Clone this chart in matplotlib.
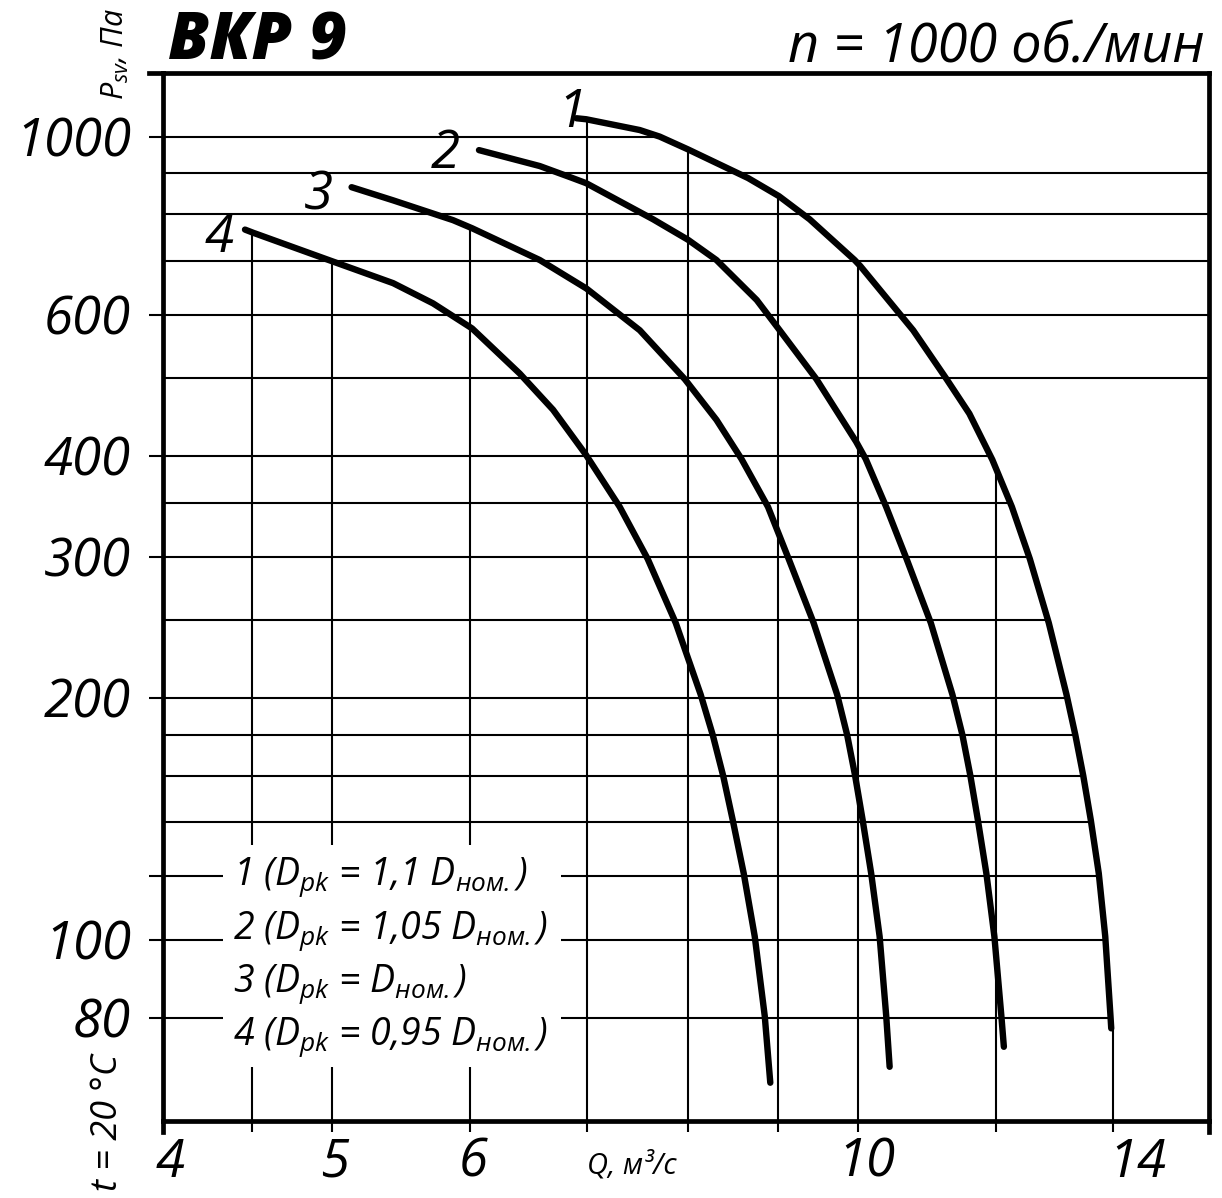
import numpy as np
import matplotlib
matplotlib.use('Agg')
from matplotlib import pyplot as plt
from matplotlib.patches import Rectangle
from matplotlib.ticker import NullLocator, NullFormatter
from matplotlib.transforms import blended_transform_factory, offset_copy

# fan curves: Q in m3/s, P_sv in Pa
q1 = [6.902, 6.991, 7.503, 7.703, 7.996, 8.655, 9.016, 9.388, 9.962, 10.037, 10.762, 11.247,
      11.590, 11.947, 12.259, 12.553, 12.871, 13.175, 13.329, 13.470, 13.604, 13.748,
      13.866, 13.962, 13.976]
p1 = [1054, 1051, 1019, 1000, 964, 888, 843, 789, 702, 690, 574, 499,
      452, 396, 346, 298, 248, 202, 180, 160, 141, 121,
      101, 80.4, 77.6]

q2 = [6.069, 6.576, 6.856, 6.991, 7.636, 7.996, 8.302, 8.755, 9.024, 9.472, 9.982, 10.108,
      10.385, 10.669, 11.016, 11.334, 11.484, 11.606, 11.721, 11.853, 11.979, 12.090, 12.130]
p2 = [962, 919, 889, 875, 789, 744, 702, 626, 574, 499, 417, 397,
      346, 298, 248, 202, 180, 160, 141, 121, 101, 80.4, 73.6]

q3 = [5.130, 5.419, 5.865, 6.014, 6.576, 6.993, 7.503, 7.962, 8.302, 8.580, 8.886, 9.132,
      9.438, 9.735, 9.864, 9.969, 10.068, 10.182, 10.296, 10.386, 10.433]
p3 = [865, 833, 787, 769, 702, 647, 574, 499, 444, 397, 346, 298,
      248, 202, 180, 160, 141, 121, 101, 80.4, 69.5]

q4 = [4.457, 4.506, 4.996, 5.419, 5.712, 6.014, 6.404, 6.692, 6.987, 7.307, 7.582, 7.868,
      8.131, 8.261, 8.376, 8.482, 8.606, 8.732, 8.848, 8.913]
p4 = [766, 759, 700, 657, 620, 577, 507, 457, 402, 346, 298, 248,
      202, 180, 160, 141, 121, 101, 80.4, 66.4]

curve_names = ['1', '2', '3', '4']
legend_lines = ['1 (D$_{pk}$ = 1,1 D$_{ном.}$)',
                '2 (D$_{pk}$ = 1,05 D$_{ном.}$)',
                '3 (D$_{pk}$ = D$_{ном.}$)',
                '4 (D$_{pk}$ = 0,95 D$_{ном.}$)']

x_ticks = [4.5, 5, 6, 7, 8, 9, 10, 12, 14]
x_labels = ['4', '5', '6', '10', '14']
x_label_vals = [4, 5, 6, 10, 14]
y_ticks = [80, 100, 120, 200, 300, 400, 600, 1000]
y_label_vals = [80, 100, 200, 300, 400, 600, 1000]
y_labels = ['80', '100', '200', '300', '400', '600', '1000']

h_grid = [80, 100, 120, 140, 160, 180, 200, 250, 300, 350, 400, 500, 600, 700, 800, 900, 1000]
h_grid_full = [500, 600, 700, 800, 900]
v_grid = [4.5, 5, 6, 7, 8, 9, 10, 12, 14]

XLIM = (4, 15.9)
YLIM = (59.5, 1200)

plt.rcParams['font.family'] = ['Open Sans', 'DejaVu Sans']
plt.rcParams['font.style'] = 'italic'
plt.rcParams['mathtext.fontset'] = 'custom'
plt.rcParams['mathtext.it'] = 'Open Sans:italic'
plt.rcParams['mathtext.rm'] = 'Open Sans:italic'
plt.rcParams['mathtext.default'] = 'it'

curves = [(q1, p1), (q2, p2), (q3, p3), (q4, p4)]


def p_at(q, qs, ps):
    return 10 ** np.interp(np.log10(q), np.log10(qs), np.log10(ps))


def q_at(p, qs, ps):
    return 10 ** np.interp(np.log10(p), np.log10(ps[::-1]), np.log10(qs[::-1]))


fig = plt.figure(figsize=(12.22, 11.98), dpi=100)
ax = fig.add_axes([163 / 1222, 77 / 1198, 1046 / 1222, 1048 / 1198])
ax.set_xscale('log')
ax.set_yscale('log')
ax.set_xlim(*XLIM)
ax.set_ylim(*YLIM)

# grid: horizontals stop at curve 1, verticals stop at the top curve
for p in h_grid:
    x_end = XLIM[1] if p in h_grid_full else q_at(p, q1, p1)
    ax.hlines(p, XLIM[0], x_end, color='black', lw=1.5, zorder=1)
for q in v_grid:
    tops = []
    for qs, ps in curves:
        if q >= qs[0]:
            tops.append(ps[-1] if q > qs[-1] else p_at(q, qs, ps))
    ax.vlines(q, YLIM[0], max(tops), color='black', lw=1.5, zorder=1)

# white field under the legend text
ax.add_patch(Rectangle((0.0574, 0.0515), 0.3231, 0.2119, transform=ax.transAxes,
                       facecolor='white', edgecolor='none', zorder=2))

for qs, ps in curves:
    ax.plot(qs, ps, color='black', lw=4.6, solid_capstyle='round',
            solid_joinstyle='round', zorder=3)

num_offsets = [(-3.6, -6.0), (-24.5, -13), (-24, -15.8), (-18.7, -16.3)]
for (qs, ps), name, off in zip(curves, curve_names, num_offsets):
    ax.annotate(name, xy=(qs[0], ps[0]), xytext=off, textcoords='offset points',
                ha='center', va='baseline', fontsize=38, zorder=4)

for i, line in enumerate(legend_lines):
    ax.text(0.0669, 0.2252 - i * 0.0509, line, transform=ax.transAxes,
            ha='left', va='baseline', fontsize=27, zorder=4)

# axes frame
for side in ['left', 'right', 'top', 'bottom']:
    ax.spines[side].set_linewidth(3.4)
    ax.spines[side].set_capstyle('projecting')
ax.plot([-14 / 1046, 0], [1, 1], transform=ax.transAxes, color='black', lw=3.4,
        clip_on=False, solid_capstyle='projecting')
for xa in [0, 1]:
    ax.plot([xa, xa], [-11 / 1048, 0], transform=ax.transAxes, color='black', lw=3.4,
            clip_on=False, solid_capstyle='projecting')

ax.set_xticks(x_ticks)
ax.set_yticks(y_ticks)
ax.xaxis.set_minor_locator(NullLocator())
ax.yaxis.set_minor_locator(NullLocator())
ax.xaxis.set_major_formatter(NullFormatter())
ax.yaxis.set_major_formatter(NullFormatter())
ax.tick_params(axis='x', length=8, width=1.5, direction='out')
ax.tick_params(axis='y', length=10, width=1.5, direction='out')

xtrans = blended_transform_factory(ax.transData, ax.transAxes)
x_shift = [5, 2, 2, 6, 18]
for v, lab, dx in zip(x_label_vals, x_labels, x_shift):
    ax.text(v, -0.0534, lab, transform=offset_copy(xtrans, fig, x=dx, y=0, units='points'),
            ha='center', va='baseline', fontsize=38)
ax.text(7, -0.0505, 'Q, м³/с', transform=xtrans, ha='left', va='baseline', fontsize=21)

ytrans = blended_transform_factory(ax.transAxes, ax.transData)
for v, lab in zip(y_label_vals, y_labels):
    ax.text(-0.0306, v, lab, transform=offset_copy(ytrans, fig, x=0, y=-14, units='points'),
            ha='right', va='baseline', fontsize=38)

fig.text(168 / 1222, 1 - 60 / 1198, 'ВКР 9', ha='left', va='baseline',
         fontsize=47, fontweight='heavy')
fig.text(1205 / 1222, 1 - 62 / 1198, 'n = 1000 об./мин', ha='right', va='baseline',
         fontsize=39)
fig.text(115 / 1222, 1 - 54 / 1198, 'P$_{sv}$, Па', rotation=90, ha='center', va='center',
         fontsize=22)
fig.text(108 / 1222, 1 - 1122 / 1198, 't = 20 °C', rotation=90, ha='center', va='center',
         fontsize=26)

fig.savefig('out.png', dpi=100, facecolor='white')
